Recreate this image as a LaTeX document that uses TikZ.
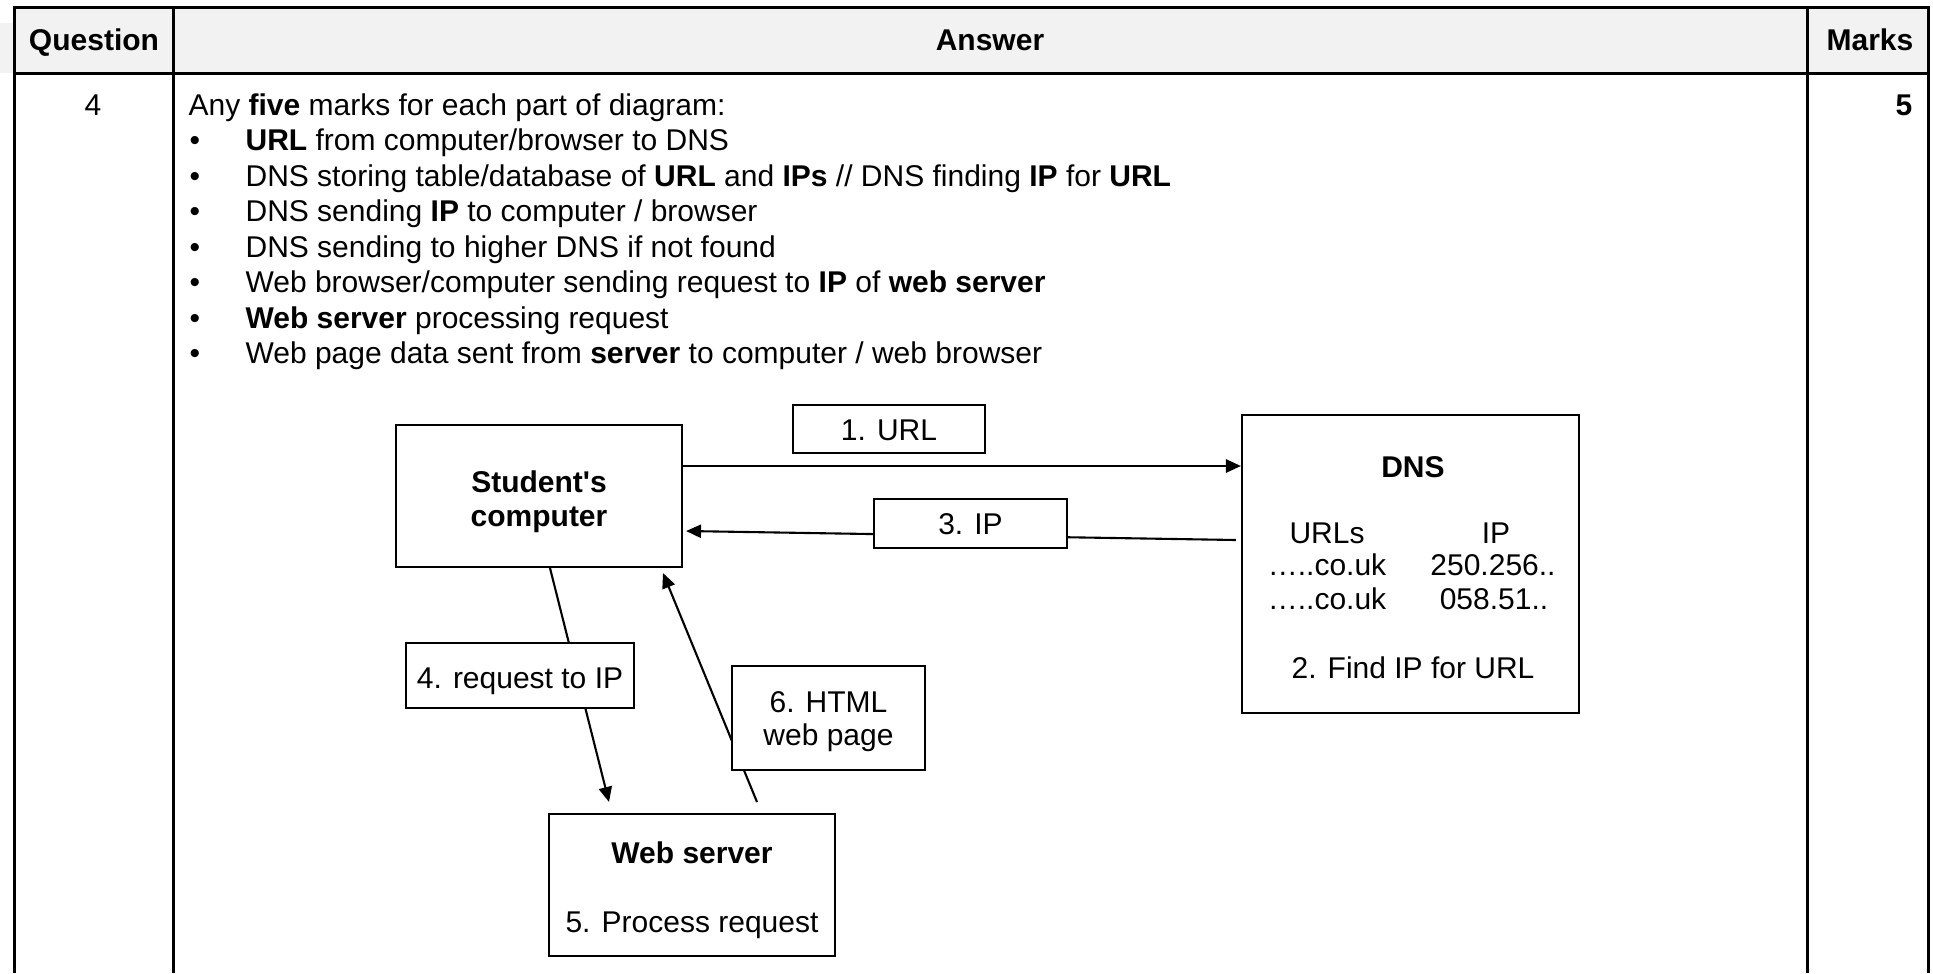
\documentclass[tikz,border=0pt]{standalone}
\usepackage{fontspec}
\setmainfont{Liberation Sans}[Ligatures=TeXOff]
\usetikzlibrary{arrows.meta,calc,backgrounds}
\definecolor{hdr}{HTML}{F2F2F2}
\tikzset{
  box/.style={draw, line width=0.7pt, fill=white, inner sep=0pt},
  arr/.style={line width=0.7pt, -{Triangle[length=5pt,width=4.4pt]}},
  grid/.style={line width=1pt},
  txt/.style={inner sep=0pt, anchor=base west},
  ctxt/.style={inner sep=0pt, anchor=base},
  rtxt/.style={inner sep=0pt, anchor=base east},
  bul/.style={inner sep=0pt, anchor=base},
}
\begin{document}
\begin{tikzpicture}[x=0.33333pt,y=-0.33333pt, every node/.style={font=\fontsize{10}{12}\selectfont}]
\useasboundingbox (0,0) rectangle (1933,973);

% header background
\fill[hdr] (14,7.5) rectangle (1928,73);
\fill[hdr] (0,23) rectangle (13,73);

% header texts
\node[ctxt] (hq) at (94,50) {\textbf{Question}};
\node[ctxt] (ha) at (990,50) {\textbf{Answer}};
\node[ctxt] (hm) at (1870,50) {\textbf{Marks}};

% row texts
\node[ctxt] (qn) at (93,115) {4};
\node[rtxt] (mk) at (1913,115) {\textbf{5}};

\node[txt] (l0) at (188,115) {Any \textbf{five} marks for each part of diagram:};
\node[bul] (b1) at (195,150.5) {•};
\node[txt] (l1) at (245,150.5) {\textbf{URL} from computer/browser to DNS};
\node[bul] (b2) at (195,186) {•};
\node[txt] (l2) at (245,186) {DNS storing table/database of \textbf{URL} and \textbf{IPs} // DNS finding \textbf{IP} for \textbf{URL}};
\node[bul] (b3) at (195,221.5) {•};
\node[txt] (l3) at (245,221.5) {DNS sending \textbf{IP} to computer / browser};
\node[bul] (b4) at (195,257) {•};
\node[txt] (l4) at (245,257) {DNS sending to higher DNS if not found};
\node[bul] (b5) at (195,292.5) {•};
\node[txt] (l5) at (245,292.5) {Web browser/computer sending request to \textbf{IP} of \textbf{web server}};
\node[bul] (b6) at (195,328) {•};
\node[txt] (l6) at (245,328) {\textbf{Web server} processing request};
\node[bul] (b7) at (195,363.5) {•};
\node[txt] (l7) at (245,363.5) {Web page data sent from \textbf{server} to computer / web browser};

% diagram boxes
\node[box, minimum width=95.33pt, minimum height=47.33pt] (stu) at (539,496) {};
\node[box, minimum width=64pt, minimum height=16pt] (url) at (889,429) {};
\node[box, minimum width=112.33pt, minimum height=99.33pt] (dns) at (1410.5,564) {};
\node[box, minimum width=64.33pt, minimum height=16.33pt] (ip) at (970.5,523.5) {};
\node[box, minimum width=76pt, minimum height=21.67pt] (req) at (520,675.5) {};
\node[box, minimum width=64.33pt, minimum height=34.67pt] (html) at (828.5,718) {};
\node[box, minimum width=95.33pt, minimum height=47.33pt] (ws) at (692,885) {};

% box texts
\node[ctxt] (stu1) at (539,492) {\textbf{Student's}};
\node[ctxt] (stu2) at (539,526) {\textbf{computer}};
\node[ctxt] (urlt) at (889,440) {1. URL};
\node[ctxt] (ipt) at (970.5,534) {3. IP};
\node[ctxt] (reqt) at (520,688) {4. request to IP};
\node[ctxt] (html1) at (828.5,712) {6. HTML};
\node[ctxt] (html2) at (828.5,745) {web page};
\node[ctxt] (ws1) at (692,863) {\textbf{Web server}};
\node[ctxt] (ws2) at (692,932) {5. Process request};

\node[ctxt] (dnst) at (1413,477) {\textbf{DNS}};
\node[ctxt] (dh1) at (1327,543) {URLs};
\node[ctxt] (dh2) at (1496,543) {IP};
\node[ctxt] (dr1a) at (1327,575) {…..co.uk};
\node[ctxt] (dr1b) at (1493,575) {250.256..};
\node[ctxt] (dr2a) at (1327,609) {…..co.uk};
\node[ctxt] (dr2b) at (1494,609) {058.51..};
\node[ctxt] (dfind) at (1413,678) {2. Find IP for URL};

% connectors (behind boxes)
\begin{scope}[on background layer]
\draw[arr] ($(stu.east)+(-4,-30)$) -- ($(dns.west)+(0,-98)$);
\draw[arr] ($(dns.west)+(-5,-24)$) -- ($(stu.east)+(3,35)$);
\draw[arr] ($(stu.south)+(11,0)$) -- ($(ws.north)+(-83,-11)$);
\draw[arr] ($(ws.north)+(65,-11)$) -- ($(stu.south)+(124,5)$);
\end{scope}

% table grid
\draw[grid] (14,973) -- (14,7.5) -- (1928,7.5) -- (1928,973);
\draw[grid] (14,73) -- (1928,73);
\draw[grid] (173.5,7.5) -- (173.5,973);
\draw[grid] (1807,7.5) -- (1807,973);
\end{tikzpicture}
\end{document}
